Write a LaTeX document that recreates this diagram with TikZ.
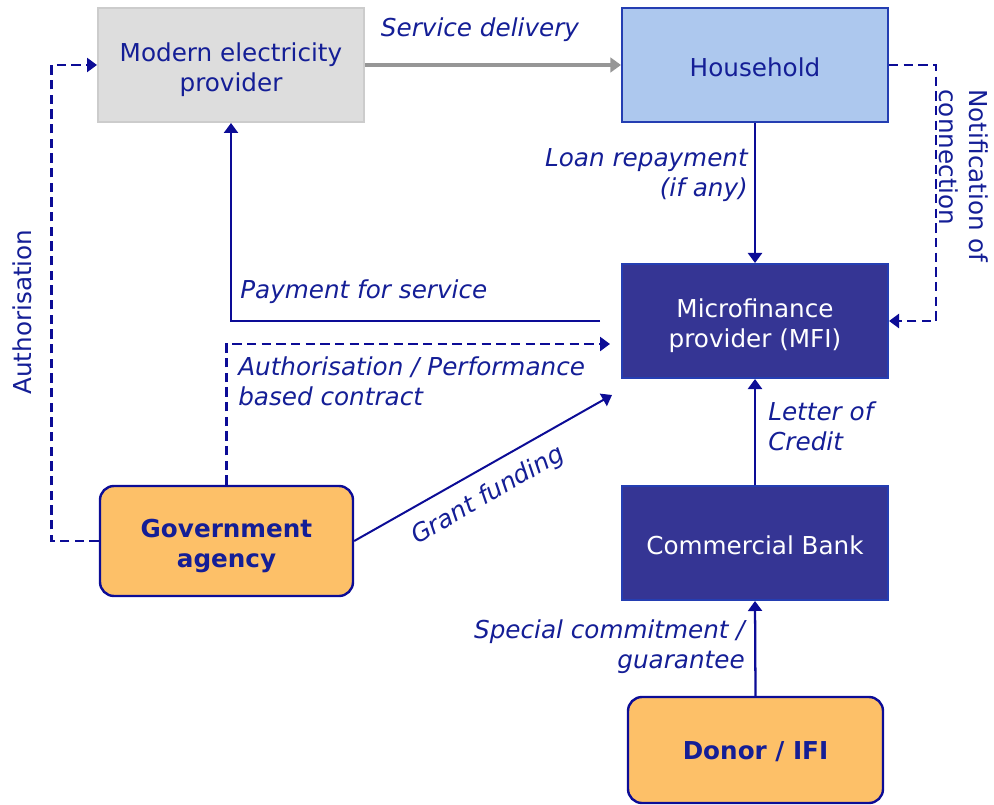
\documentclass[tikz,border=0pt]{standalone}
\usepackage{fontspec}
\setmainfont{DejaVu Sans}
\usetikzlibrary{arrows.meta,calc}

\definecolor{navy}{RGB}{20,30,150}
\definecolor{lineblue}{RGB}{12,12,150}
\definecolor{mfiblue}{RGB}{53,53,148}
\definecolor{boxedge}{RGB}{36,62,178}
\definecolor{skyfill}{RGB}{173,200,238}
\definecolor{greyfill}{RGB}{221,221,221}
\definecolor{greyedge}{RGB}{204,204,204}
\definecolor{greyarrow}{RGB}{150,150,150}
\definecolor{orangefill}{RGB}{253,192,104}

\newcommand\diagfont{\fontsize{18.5}{22.5}\selectfont}

\tikzset{
  box/.style={rectangle, inner sep=0pt, minimum width=199.5pt, minimum height=85.5pt,
    line width=1.5pt},
  greybox/.style={box, fill=greyfill, draw=greyedge},
  skybox/.style={box, fill=skyfill, draw=boxedge},
  darkbox/.style={box, fill=mfiblue, draw=boxedge},
  actor/.style={rectangle, rounded corners=10.5pt, inner sep=0pt, fill=orangefill,
    draw=lineblue, line width=1.8pt},
  % box captions, set a little below the geometric centre
  boxcap/.style={inner sep=0pt, align=center, font=\diagfont, text=navy, yshift=-3.5pt},
  boxcapone/.style={boxcap, yshift=2pt},
  wboxcap/.style={boxcap, text=white},
  wboxcapone/.style={boxcapone, text=white},
  bboxcap/.style={boxcap, font=\diagfont\bfseries},
  bboxcapone/.style={boxcapone, font=\diagfont\bfseries},
  lbl/.style={inner sep=0pt, text=navy, font=\diagfont\itshape},
  tip/.style={-{Triangle[length=7.5pt,width=10.5pt]}},
  flow/.style={tip, draw=lineblue, line width=1.7pt},
  dflow/.style={flow, line width=2pt, dash pattern=on 7pt off 4pt},
  greyflow/.style={-{Triangle[length=8pt,width=11pt]}, draw=greyarrow, line width=2.6pt},
}

\begin{document}
\begin{tikzpicture}[x=0.75pt, y=-0.75pt]
  \useasboundingbox (0,0) rectangle (994,805);

  % organisations
  \node[greybox, label={[boxcap]center:{Modern electricity\\provider}}] (mep) at (231,65) {};
  \node[skybox,  label={[boxcapone]center:Household}] (hh) at (755,65) {};
  \node[darkbox, label={[wboxcap]center:{Microfinance\\provider (MFI)}}] (mfi) at (755,321) {};
  \node[darkbox, label={[wboxcapone]center:Commercial Bank}] (cb) at (755,543) {};
  \node[actor, minimum width=189.75pt, minimum height=82.5pt,
        label={[bboxcap]center:{Government\\agency}}] (gov) at (226.5,541) {};
  \node[actor, minimum width=191.25pt, minimum height=79.5pt,
        label={[bboxcapone]center:Donor / IFI}] (donor) at (755.5,750) {};

  % free ends of the open connectors
  \coordinate (payS) at (600,321);
  \coordinate (apE)  at (610,344);
  \coordinate (grE)  at (612,395);

  % connectors
  \draw[greyflow] (mep.east) -- (hh.west);
  \draw[flow] (hh.south) -- (mfi.north);
  \draw[dflow] (hh.east) -- ++(47,0) |- (mfi.east);
  \draw[flow] (payS) -| (mep.south);
  \draw[dflow] (gov.north) |- (apE);
  \draw[flow, line width=1.5pt] (gov.east) -- (grE);
  \draw[dflow] (gov.west) -- ++(-47,0) |- (mep.west);
  \draw[flow] (cb.north) -- (mfi.south);
  \draw[flow] (donor.north) -- (cb.south);

  % connector labels
  \node[lbl] (lsd) at (480,30) {Service delivery};
  \node[lbl, anchor=east, align=right] (lloan) at (748,175) {Loan repayment\\(if any)};
  \node[lbl, rotate=-90, align=left, font=\diagfont] (lnot) at (964,176) {Notification of\\connection};
  \node[lbl, anchor=west] (lpay) at (240,292) {Payment for service};
  \node[lbl, anchor=west, align=left] (lap) at (238,381) {Authorisation / Performance\\based contract};
  \node[lbl, rotate=30] (lgr) at (488,496) {Grant funding};
  \node[lbl, rotate=90, font=\diagfont] (lauth) at (22,312) {Authorisation};
  \node[lbl, anchor=west, align=left] (lloc) at (768,426) {Letter of\\Credit};
  \node[lbl, anchor=east, align=right] (lsc) at (745,647) {Special commitment /\\guarantee};
\end{tikzpicture}
\end{document}
